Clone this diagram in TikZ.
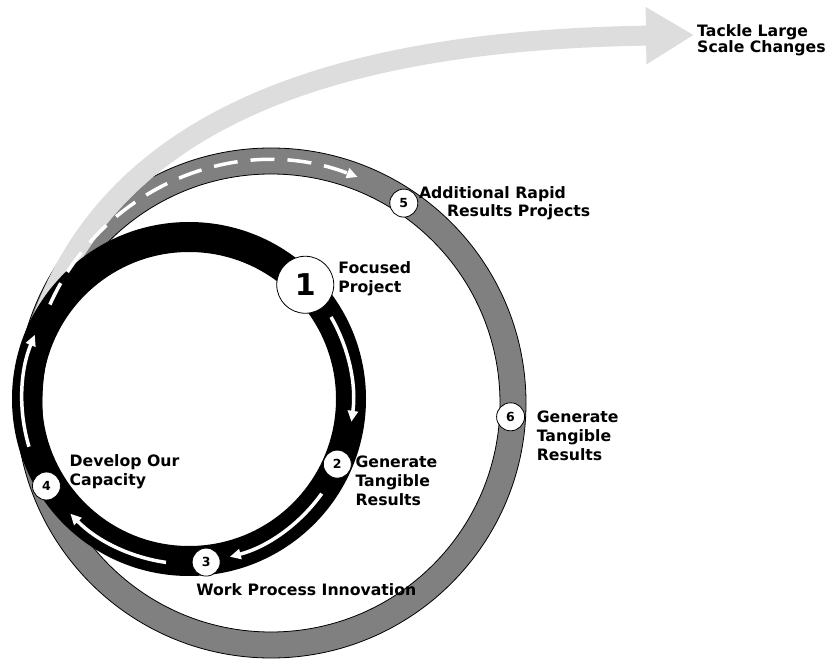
\documentclass[tikz,border=0pt]{standalone}
\usepackage{fontspec}
\setmainfont{DejaVu Sans}
\usetikzlibrary{arrows.meta}
\definecolor{ringgray}{HTML}{808080}
\definecolor{trailgray}{HTML}{DDDDDD}
\tikzstyle{outerring}=[
	fill=ringgray,
	draw=black,
	line width=0.8pt,
	even odd rule
]
\tikzstyle{innerring}=[
	fill=black,
	even odd rule
]
\tikzstyle{spot}=[
	circle,
	draw=black,
	line width=0.8pt,
	fill=white,
	inner sep=0pt,
	minimum size=28pt,
	font=\fontsize{12.5}{12.5}\selectfont\bfseries
]
\tikzstyle{bigspot}=[
	spot,
	minimum size=57pt,
	font=\fontsize{30}{30}\selectfont\bfseries
]
\tikzstyle{desc}=[
	anchor=base west,
	align=left,
	inner sep=0pt,
	font=\fontsize{15.7}{19}\selectfont\bfseries
]
\tikzstyle{flow}=[
	white,
	line width=3.5pt,
	-{Triangle[length=11pt,width=10pt]}
]
\tikzstyle{trail}=[
	trailgray,
	line width=20pt,
	-{Triangle[length=48pt,width=54pt]}
]

\begin{document}
\begin{tikzpicture}[x=1pt, y=1pt]
\useasboundingbox (0,0) rectangle (827,659);
\coordinate (outer) at (271,256);
\coordinate (inner) at (189,260);
\coordinate (tail) at (24,269);
\coordinate (tip) at (694,624);

\path[outerring] (outer) circle (255) (outer) circle (229);
\draw[trail] (tail) .. controls (70,539) and (330,619) .. (tip);
\path[innerring] (inner) circle (177) (inner) circle (147);

\draw[flow] ([shift={(30:164)}]inner) arc[start angle=30, end angle=-8, radius=164];
\draw[flow] ([shift={(-35.5:163)}]inner) arc[start angle=-35.5, end angle=-75.5, radius=163];
\draw[flow] ([shift={(-98:165)}]inner) arc[start angle=-98, end angle=-136, radius=165];
\draw[flow] ([shift={(196.6:167)}]inner) arc[start angle=196.6, end angle=157.4, radius=167];
\draw[flow, dash pattern=on 24pt off 13pt] ([shift={(156:242)}]outer) arc[start angle=156, end angle=69, radius=242];

\node [bigspot] (one) at ([shift={(44.5:163)}]inner) {1};
\node [spot] (two) at ([shift={(-23.7:162)}]inner) {2};
\node [spot] (three) at ([shift={(-84:164)}]inner) {3};
\node [spot] (four) at ([shift={(211.4:167)}]inner) {4};
\node [spot] (five) at ([shift={(56.4:240)}]outer) {5};
\node [spot] (six) at ([shift={(-3.3:240)}]outer) {6};

\node [desc] (focused) at ([shift={(33,-8)}]one) {Focused\\Project};
\node [desc] (tangible) at ([shift={(18,-41)}]two) {Generate\\Tangible\\Results};
\node [desc] (innovation) at ([shift={(-10,-33)}]three) {Work Process Innovation};
\node [desc] (capacity) at ([shift={(23,1)}]four) {Develop Our\\Capacity};
\node [desc, font=\fontsize{15.7}{18}\selectfont\bfseries] (rapid) at ([shift={(15,-13)}]five) {Additional Rapid\\\hspace*{28pt}Results Projects};
\node [desc] (moretangible) at ([shift={(26,-44)}]six) {Generate\\Tangible\\Results};
\node [desc, font=\fontsize{15.7}{15}\selectfont\bfseries] (large) at ([shift={(3,-18)}]tip) {Tackle Large\\Scale Changes};
\end{tikzpicture}
\end{document}
